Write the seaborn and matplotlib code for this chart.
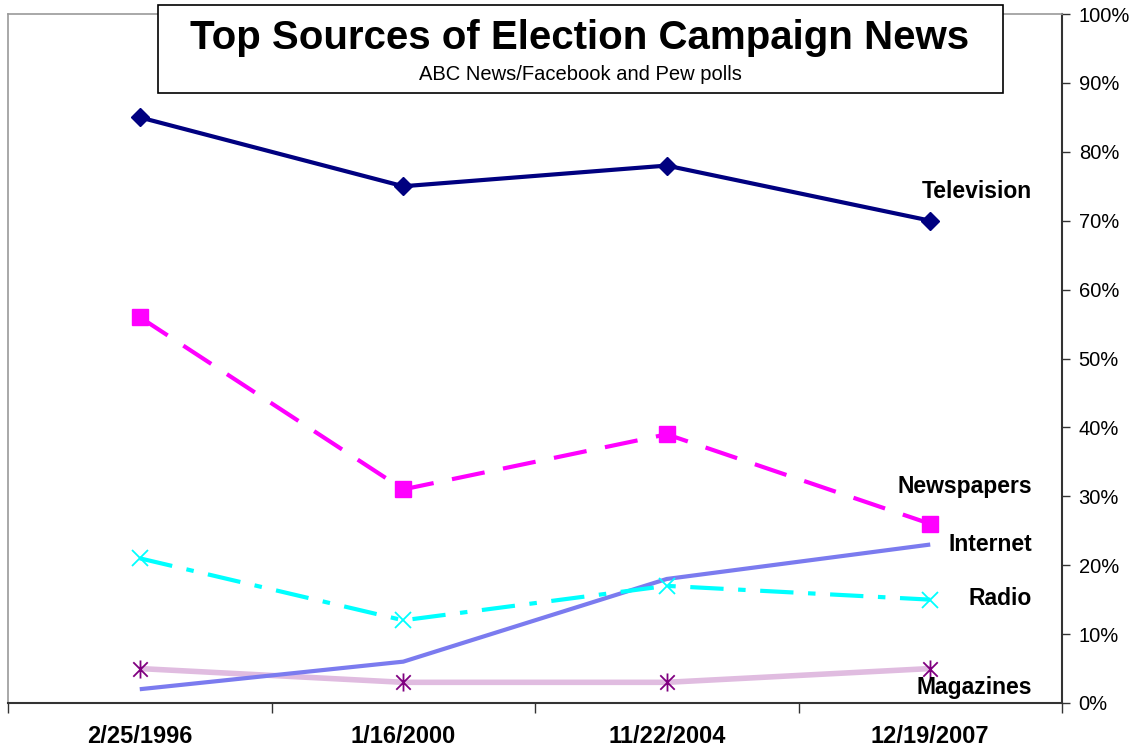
import matplotlib
matplotlib.use("Agg")
import matplotlib.pyplot as plt
import matplotlib.patches as mpatches
from matplotlib.path import Path
from matplotlib.ticker import FixedLocator, PercentFormatter
import seaborn as sns
import pandas as pd

dates = ["2/25/1996", "1/16/2000", "11/22/2004", "12/19/2007"]
television = [85, 75, 78, 70]
newspapers = [56, 31, 39, 26]
radio = [21, 12, 17, 15]
internet = [2, 6, 18, 23]
magazines = [5, 3, 3, 5]
series_names = ["Television", "Newspapers", "Internet", "Radio", "Magazines"]
series_values = [television, newspapers, internet, radio, magazines]
y_ticks = list(range(0, 101, 10))

sns.set_theme(style="white")
plt.rcParams["font.family"] = ["Liberation Sans", "DejaVu Sans"]
plt.rcParams["text.color"] = "black"
plt.rcParams["xtick.color"] = "black"
plt.rcParams["ytick.color"] = "black"

# asterisk marker: vertical bar plus an X
star_path = Path(
    [(0, -1), (0, 1), (-0.8, -0.8), (0.8, 0.8), (-0.8, 0.8), (0.8, -0.8)],
    [Path.MOVETO, Path.LINETO, Path.MOVETO, Path.LINETO, Path.MOVETO, Path.LINETO],
)

W, H = 1133, 752
fig = plt.figure(figsize=(W / 100, H / 100), dpi=100)
ax = fig.add_axes([8 / W, (H - 703) / H, (1062 - 8) / W, (703 - 14) / H])

styles = {
    "Television": dict(color="#000080", lw=3.0, marker="D", ms=9, dashes=None, mec="#000080", mew=1),
    "Newspapers": dict(color="#FF00FF", lw=3.0, marker="s", ms=11, dashes=(8, 4.5), mec="#FF00FF", mew=1),
    "Radio": dict(color="#00FFFF", lw=3.0, marker="x", ms=12, dashes=(8, 3.5, 1.8, 3.5), mec="#00FFFF", mew=1.3),
    "Internet": dict(color="#7B7BEF", lw=3.0, marker=None, ms=0, dashes=None, mec=None, mew=0),
    "Magazines": dict(color="#E0BCE0", lw=4.0, marker=star_path, ms=13, dashes=None, mec="#800080", mew=1.3),
}

order = ["Magazines", "Internet", "Radio", "Newspapers", "Television"]
vals = dict(zip(series_names, series_values))
for name in order:
    st = styles[name]
    df = pd.DataFrame({"date": dates, "value": vals[name]})
    kw = {}
    if st["marker"] is not None:
        kw = dict(marker=st["marker"], markersize=st["ms"], markeredgecolor=st["mec"],
                  markerfacecolor=st["mec"], markeredgewidth=st["mew"])
    sns.lineplot(data=df, x="date", y="value", sort=False, ax=ax,
                 color=st["color"], linewidth=st["lw"], **kw)
    l = ax.lines[-1]
    if st["dashes"] is not None:
        l.set_dashes(st["dashes"])
        l.set_dash_capstyle("butt")
    l.set_solid_capstyle("butt")

ax.set_xlim(-0.5, 3.5)
ax.set_ylim(0, 100)
ax.set_xlabel("")
ax.set_ylabel("")

# y axis on right
ax.yaxis.tick_right()
ax.yaxis.set_major_locator(FixedLocator(y_ticks))
ax.yaxis.set_major_formatter(PercentFormatter(decimals=0))
ax.tick_params(axis="y", which="major", direction="out", length=6, width=1,
               color="#333333", labelsize=14.5, pad=6, labelcolor="black",
               right=True, left=False)

# x axis ticks at category boundaries
ax.set_xticks([0, 1, 2, 3])
ax.set_xticklabels(dates, fontsize=17, fontweight="bold")
ax.set_xticks([-0.5, 0.5, 1.5, 2.5, 3.5], minor=True)
ax.tick_params(axis="x", which="major", length=0, pad=16, labelcolor="black")
ax.tick_params(axis="x", which="minor", direction="out", length=7, width=1,
               color="#333333", bottom=True)

for side in ["top", "left"]:
    ax.spines[side].set_color("#9A9A9A")
    ax.spines[side].set_linewidth(1.2)
for side in ["bottom", "right"]:
    ax.spines[side].set_color("#333333")
    ax.spines[side].set_linewidth(1.5)
ax.grid(False)

# series labels
label_x = 3.386
label_pos = {"Television": 74.3, "Newspapers": 31.4, "Internet": 23.0, "Radio": 15.2, "Magazines": 2.3}
for name in series_names:
    ax.text(label_x, label_pos[name], name, ha="right", va="center",
            fontsize=16.5, fontweight="bold", color="black")

# title box
box = mpatches.Rectangle((158 / W, 1 - 93 / H), (1003 - 158) / W, (93 - 5) / H,
                         transform=fig.transFigure, facecolor="white",
                         edgecolor="black", linewidth=1.2, zorder=10)
fig.patches.append(box)
fig.text(580 / W, 1 - 38 / H, "Top Sources of Election Campaign News",
         ha="center", va="center", fontsize=29, fontweight="bold", color="black", zorder=11)
fig.text(580 / W, 1 - 74 / H, "ABC News/Facebook and Pew polls",
         ha="center", va="center", fontsize=14.5, color="black", zorder=11)

fig.savefig("out.png", dpi=100, facecolor="white")
